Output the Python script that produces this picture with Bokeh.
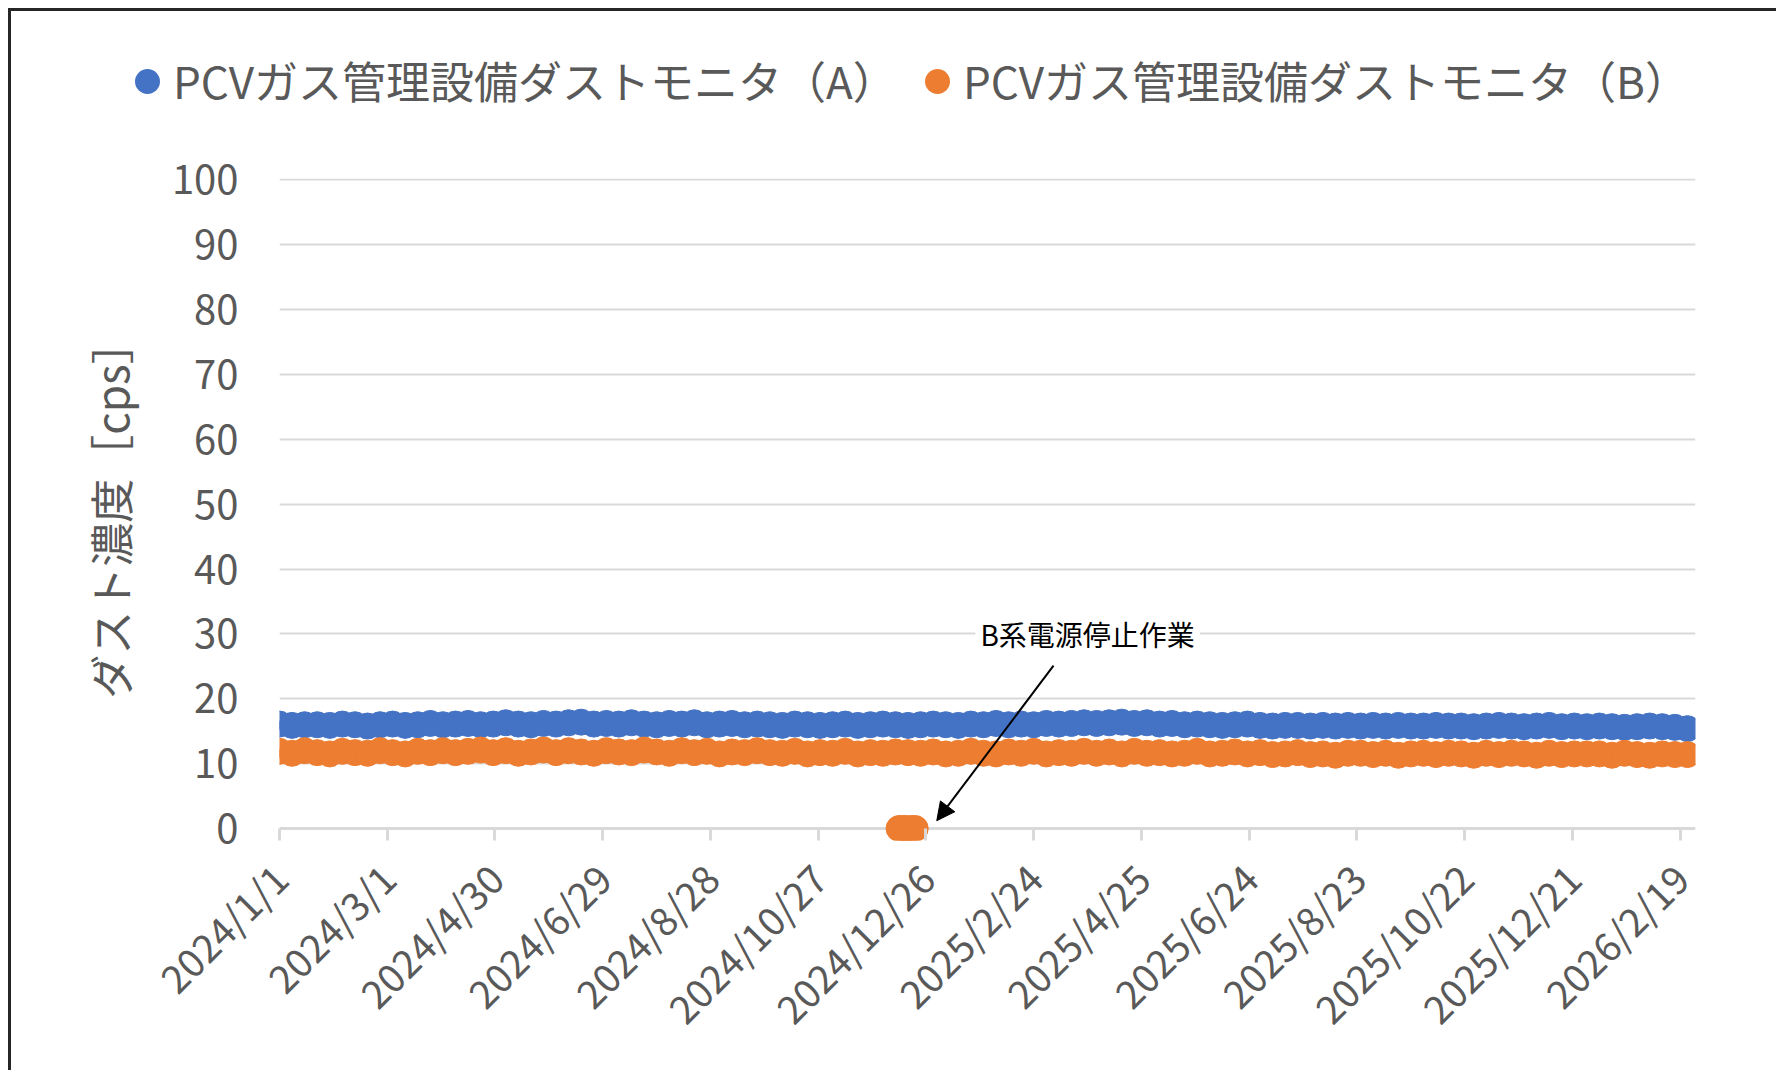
import pandas as pd
from math import pi
from bokeh.plotting import figure
from bokeh.layouts import column
from bokeh.models import (Range1d, FixedTicker, Label, Arrow, Div,
                          NormalHead, ColumnDataSource, Span)
from bokeh.embed import file_html
from bokeh.resources import INLINE

# ---------------- data ----------------
series_a_name = "PCVガス管理設備ダストモニタ（A）"
series_b_name = "PCVガス管理設備ダストモニタ（B）"
y_title = "ダスト濃度［cps］"
annotation_text = "B系電源停止作業"

first_date = "2024-01-01"      # weekly samples
sample_step = "7D"

a_values = [
    16.1, 15.9, 16.0, 16.0, 15.9, 16.1, 16.0, 15.8, 16.0, 16.1, 15.9, 16.0, 16.2,
    16.0, 16.1, 16.2, 16.0, 16.1, 16.3, 16.1, 16.0, 16.2, 16.1, 16.3, 16.4, 16.1,
    16.2, 16.1, 16.3, 16.1, 16.0, 16.2, 16.1, 16.3, 16.0, 16.1, 16.2, 16.0, 16.1,
    16.0, 15.9, 16.1, 16.0, 15.9, 16.0, 16.1, 15.9, 16.0, 16.1, 16.0, 15.9, 16.0,
    16.1, 16.0, 15.9, 16.1, 16.0, 16.2, 16.0, 16.1, 16.0, 16.2, 16.1, 16.2, 16.3,
    16.2, 16.3, 16.4, 16.2, 16.3, 16.1, 16.2, 16.0, 16.1, 16.0, 15.9, 16.0, 16.1,
    15.9, 15.8, 15.9, 15.9, 15.8, 15.9, 15.8, 15.9, 15.8, 15.9, 15.8, 15.9, 15.8,
    15.8, 15.9, 15.8, 15.8, 15.7, 15.8, 15.9, 15.8, 15.7, 15.8, 15.9, 15.7, 15.8,
    15.7, 15.8, 15.7, 15.6, 15.7, 15.8, 15.7, 15.6, 15.4,
]
b_values = [
    11.9, 11.6, 12.0, 11.7, 11.5, 11.9, 11.7, 11.6, 12.0, 11.7, 11.5, 11.9, 11.7,
    12.0, 11.7, 11.9, 12.1, 11.7, 12.0, 11.6, 11.8, 12.1, 11.7, 12.0, 11.8, 11.6,
    12.0, 11.8, 11.7, 12.1, 11.8, 11.6, 12.0, 11.7, 11.9, 11.5, 11.8, 11.7, 12.0,
    11.7, 11.6, 11.9, 11.5, 11.7, 11.6, 11.9, 11.5, 11.7, 11.6, 11.8, 11.7, 11.6,
    11.8, 11.5, 11.6, 11.9, 11.6, 11.5, 11.8, 11.6, 11.9, 11.5, 11.7, 11.6, 11.9,
    11.6, 11.8, 11.5, 11.9, 11.6, 11.7, 11.5, 11.6, 11.9, 11.5, 11.6, 11.8, 11.5,
    11.7, 11.4, 11.5, 11.7, 11.4, 11.5, 11.3, 11.6, 11.6, 11.4, 11.6, 11.3, 11.5,
    11.6, 11.4, 11.6, 11.5, 11.3, 11.6, 11.4, 11.6, 11.5, 11.3, 11.6, 11.4, 11.5,
    11.5, 11.5, 11.3, 11.6, 11.4, 11.3, 11.5, 11.4, 11.4,
]
# B system power-stop work: readings at 0
b_stop_dates = ["2024-12-11", "2024-12-13", "2024-12-15", "2024-12-18", "2024-12-20"]
b_stop_values = [0, 0, 0, 0, 0]

x_tick_labels = ["2024/1/1", "2024/3/1", "2024/4/30", "2024/6/29", "2024/8/28",
                 "2024/10/27", "2024/12/26", "2025/2/24", "2025/4/25", "2025/6/24",
                 "2025/8/23", "2025/10/22", "2025/12/21", "2026/2/19"]
y_ticks = [0, 10, 20, 30, 40, 50, 60, 70, 80, 90, 100]

x_start_date = "2024-01-01"
x_end_date = "2026-02-27 12:00"
y_start, y_end = -1.85, 100.23

# annotation placement (data coordinates)
note_x, note_y = "2025-03-26", 30
arrow_from = ("2025-03-07", 25.1)
arrow_to = ("2025-01-01", 1.2)

# ---------------- helpers ----------------
def ms(d):
    return pd.Timestamp(d).value / 1e6

dates = pd.date_range(first_date, periods=len(a_values), freq=sample_step)
src_a = ColumnDataSource(dict(x=list(dates), y=a_values))
src_b = ColumnDataSource(dict(x=list(dates) + [pd.Timestamp(d) for d in b_stop_dates],
                              y=b_values + b_stop_values))

tick_ts = pd.to_datetime(x_tick_labels, format="%Y/%m/%d")
tick_ms = [t.value / 1e6 for t in tick_ts]

FONT = "Noto Sans CJK JP"
GRAY = "#595959"
GRID = "#D9D9D9"
BLUE = "#4472C4"
ORANGE = "#ED7D31"
EDGE = "3px solid #262626"
W = 1765
LEG_H = 127

# ---------------- legend strip (HTML) ----------------
def legend_entry(dot_left, text_left, color, label):
    dot = (f'<span style="position:absolute;left:{dot_left}px;top:58px;width:25px;'
           f'height:25px;border-radius:50%;background:{color};"></span>')
    txt = (f'<span style="position:absolute;left:{text_left}px;top:39px;height:60px;'
           f'line-height:60px;white-space:nowrap;">{label}</span>')
    return dot + txt

legend_html = (
    f'<div style="position:relative;width:{W}px;height:{LEG_H}px;'
    f'font-family:\'{FONT}\';font-size:44px;color:{GRAY};">'
    + legend_entry(124, 162, BLUE, series_a_name)
    + legend_entry(914, 952, ORANGE, series_b_name)
    + '</div>'
)
legend_div = Div(text=legend_html, width=W, height=LEG_H, margin=0)

# ---------------- main chart ----------------
p = figure(width=W, height=1059 - LEG_H, x_axis_type="datetime",
           x_range=Range1d(ms(x_start_date), ms(x_end_date)),
           y_range=Range1d(y_start, y_end),
           output_backend="svg", toolbar_location=None,
           min_border_left=268, min_border_right=81,
           min_border_top=40, min_border_bottom=230)
p.outline_line_color = None

p.ygrid.grid_line_color = GRID
p.ygrid.grid_line_width = 2
p.add_layout(Span(location=0, dimension="width", line_color=GRID, line_width=3,
                  level="underlay"))

ra = p.scatter("x", "y", source=src_a, size=26, fill_color=BLUE, line_color=BLUE)
rb = p.scatter("x", "y", source=src_b, size=26, fill_color=ORANGE, line_color=ORANGE)

# x axis
xa = p.xaxis[0]
xa.ticker = FixedTicker(ticks=tick_ms)
xa.major_label_overrides = {m: l for m, l in zip(tick_ms, x_tick_labels)}
xa.major_label_orientation = pi / 4
xa.major_label_text_font = FONT
xa.major_label_text_font_size = "39px"
xa.major_label_text_color = GRAY
xa.major_label_standoff = 30
xa.axis_line_color = None
xa.major_tick_line_color = GRID
xa.major_tick_line_width = 3
xa.major_tick_out = 0
xa.major_tick_in = 12
xa.minor_tick_line_color = None
p.xgrid.visible = False

# y axis
ya = p.yaxis[0]
ya.ticker = FixedTicker(ticks=y_ticks)
ya.axis_line_color = None
ya.major_tick_line_color = None
ya.minor_tick_line_color = None
ya.major_tick_out = 0
ya.major_tick_in = 0
ya.major_label_standoff = 41
ya.major_label_text_font = FONT
ya.major_label_text_font_size = "40px"
ya.major_label_text_color = GRAY
ya.axis_label = y_title
ya.axis_label_text_font = FONT
ya.axis_label_text_font_size = "44px"
ya.axis_label_text_font_style = "normal"
ya.axis_label_text_color = GRAY
ya.axis_label_standoff = 27

# annotation
p.add_layout(Arrow(end=NormalHead(size=18, fill_color="black", line_color="black"),
                   x_start=ms(arrow_from[0]), y_start=arrow_from[1],
                   x_end=ms(arrow_to[0]), y_end=arrow_to[1],
                   line_color="black", line_width=2))
p.add_layout(Label(x=ms(note_x), y=note_y, text=annotation_text,
                   text_align="center", text_baseline="middle",
                   text_font=FONT, text_font_size="28px", text_color="black",
                   background_fill_color="white", padding=5))

layout = column(legend_div, p, spacing=0,
                styles={"border-top": EDGE, "border-left": EDGE,
                        "margin-top": "8px", "margin-left": "8px"})

open("out.html", "w").write(file_html(layout, INLINE))
